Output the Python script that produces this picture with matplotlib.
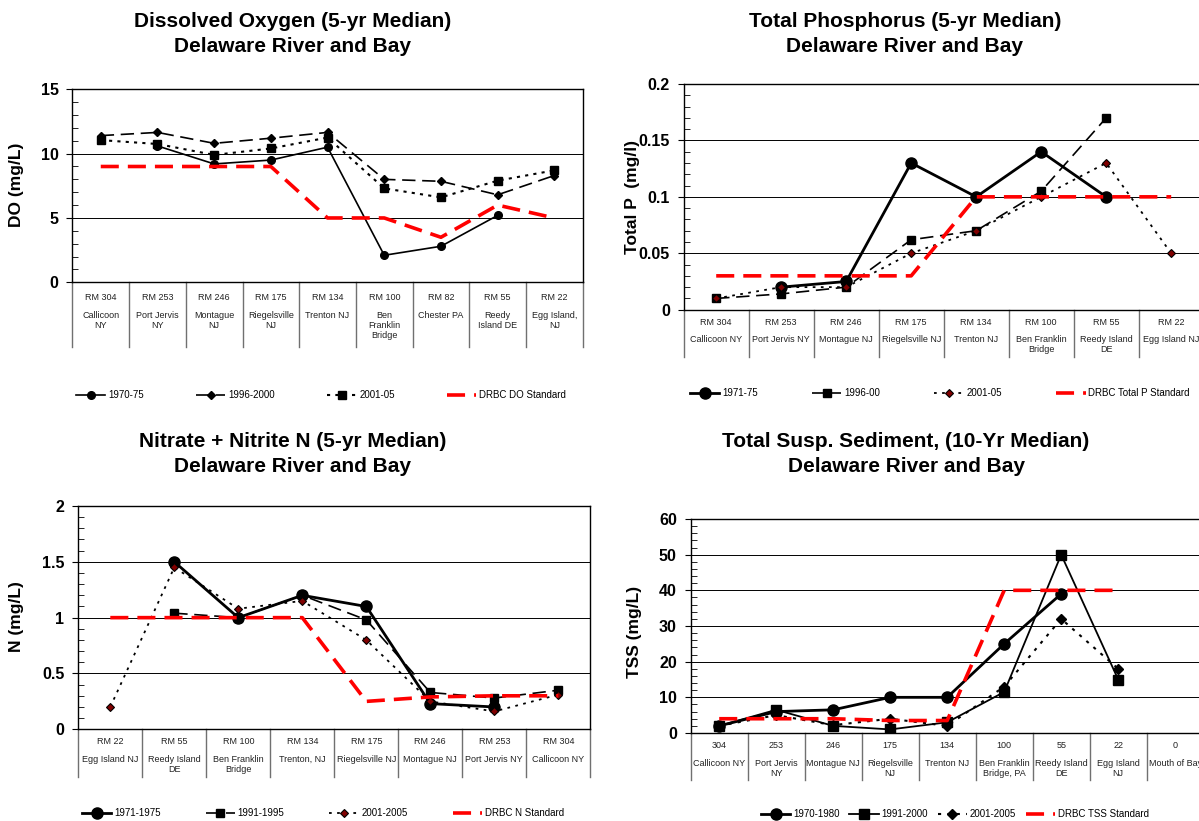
import matplotlib.pyplot as plt
import numpy as np
from matplotlib.ticker import MultipleLocator, FuncFormatter

plt.rcParams['font.family'] = ['Liberation Sans', 'DejaVu Sans']

W, H = 1199, 821
nan = np.nan

# Dissolved oxygen (mg/L)
do_sites = ['RM 304', 'RM 253', 'RM 246', 'RM 175', 'RM 134', 'RM 100', 'RM 82', 'RM 55', 'RM 22']
do_places = ['Callicoon\nNY', 'Port Jervis\nNY', 'Montague\nNJ', 'Riegelsville\nNJ', 'Trenton NJ',
             'Ben\nFranklin\nBridge', 'Chester PA', 'Reedy\nIsland DE', 'Egg Island,\nNJ']
do_1970 = [nan, 10.6, 9.2, 9.5, 10.5, 2.1, 2.8, 5.2, nan]
do_1996 = [11.4, 11.65, 10.8, 11.2, 11.65, 8.0, 7.85, 6.8, 8.3]
do_2001 = [11.05, 10.75, 9.9, 10.4, 11.25, 7.3, 6.6, 7.9, 8.7]
do_std = [9, 9, 9, 9, 5, 5, 3.5, 6, 5]

# Total phosphorus (mg/l)
tp_sites = ['RM 304', 'RM 253', 'RM 246', 'RM 175', 'RM 134', 'RM 100', 'RM 55', 'RM 22']
tp_places = ['Callicoon NY', 'Port Jervis NY', 'Montague NJ', 'Riegelsville NJ', 'Trenton NJ',
             'Ben Franklin\nBridge', 'Reedy Island\nDE', 'Egg Island NJ']
tp_1971 = [nan, 0.02, 0.025, 0.13, 0.1, 0.14, 0.1, nan]
tp_1996 = [0.01, 0.014, 0.02, 0.062, 0.07, 0.105, 0.17, nan]
tp_2001 = [0.01, 0.02, 0.02, 0.05, 0.07, 0.1, 0.13, 0.05]
tp_std = [0.03, 0.03, 0.03, 0.03, 0.1, 0.1, 0.1, 0.1]

# Nitrate + nitrite N (mg/L)
n_sites = ['RM 22', 'RM 55', 'RM 100', 'RM 134', 'RM 175', 'RM 246', 'RM 253', 'RM 304']
n_places = ['Egg Island NJ', 'Reedy Island\nDE', 'Ben Franklin\nBridge', 'Trenton, NJ', 'Riegelsville NJ',
            'Montague NJ', 'Port Jervis NY', 'Callicoon NY']
n_1971 = [nan, 1.5, 1.0, 1.2, 1.1, 0.23, 0.2, nan]
n_1991 = [nan, 1.04, 1.0, 1.2, 0.98, 0.33, 0.28, 0.35]
n_2001 = [0.2, 1.45, 1.08, 1.15, 0.8, 0.25, 0.16, 0.31]
n_std = [1, 1, 1, 1, 0.25, 0.29, 0.3, 0.3]

# Total suspended sediment (mg/L)
tss_sites = ['304', '253', '246', '175', '134', '100', '55', '22', '0']
tss_places = ['Callicoon NY', 'Port Jervis\nNY', 'Montague NJ', 'Riegelsville\nNJ', 'Trenton NJ',
              'Ben Franklin\nBridge, PA', 'Reedy Island\nDE', 'Egg Island\nNJ', 'Mouth of Bay']
tss_1970 = [2, 6, 6.5, 10, 10, 25, 39, nan, nan]
tss_1991 = [2, 6.5, 2, 1, 3, 11.5, 50, 15, nan]
tss_2001 = [2, 5, 2.2, 4, 2, 13, 32, 18, nan]
tss_std = [4, 4, 4, 3.5, 3.5, 40, 40, 40, nan]

RED = '#FF0000'
DARKRED = '#800000'


def rect(left, top, right, bottom):
    # pixel box -> figure fraction
    return [left / W, 1 - bottom / H, (right - left) / W, (bottom - top) / H]


def setup_axes(fig, box, ymax, major, minor, sites, places, table_bottom, off1, off2):
    ax = fig.add_axes(rect(*box))
    n = len(sites)
    x = np.arange(n)
    ax.set_xlim(-0.5, n - 0.5)
    ax.set_ylim(0, ymax)
    ax.set_xticks([])
    ax.yaxis.set_major_locator(MultipleLocator(major))
    ax.yaxis.set_minor_locator(MultipleLocator(minor))
    ax.yaxis.set_major_formatter(FuncFormatter(lambda v, p: f'{v:g}'))
    ax.tick_params(axis='y', which='major', direction='out', length=4, labelsize=11.5, pad=6)
    ax.tick_params(axis='y', which='minor', direction='in', length=4)
    for lab in ax.get_yticklabels():
        lab.set_fontweight('bold')
    ax.grid(axis='y', which='major', color='black', lw=0.7)
    ax.set_axisbelow(True)
    for s in ax.spines.values():
        s.set_linewidth(1.0)

    # category table under the plot
    depth = (table_bottom - box[3]) / (box[3] - box[1])
    tr = ax.get_xaxis_transform()
    for i in range(n + 1):
        ax.plot([i - 0.5, i - 0.5], [0, -depth], transform=tr, clip_on=False, color='#707070', lw=1)
    for xi, s, p in zip(x, sites, places):
        ax.annotate(s, xy=(xi, 0), xycoords=tr, xytext=(0, -off1), textcoords='offset pixels',
                    ha='center', va='center', fontsize=6.5, color='#222222')
        ax.annotate(p, xy=(xi, 0), xycoords=tr, xytext=(0, -off2), textcoords='offset pixels',
                    ha='center', va='top', fontsize=6.5, color='#222222', linespacing=1.15)
    return ax, x


def add_titles(fig, cx, cy, text, ylabel, ylx, yly):
    fig.text(cx / W, 1 - cy / H, text, ha='center', va='center', fontsize=15,
             fontweight='bold', linespacing=1.35)
    fig.text(ylx / W, 1 - yly / H, ylabel, ha='center', va='center', rotation=90,
             fontsize=12.5, fontweight='bold')


fig = plt.figure(figsize=(W / 100, H / 100), dpi=100)

# ---------------- Dissolved Oxygen ----------------
ax, x = setup_axes(fig, (72.4, 89.3, 582.7, 282.3), 15, 5, 1, do_sites, do_places, 347, 15, 29)
ax.plot(x, do_1970, color='black', lw=1.2, marker='o', ms=5.5, label='1970-75')
ax.plot(x, do_1996, color='black', lw=1.2, dashes=(8, 4), marker='D', ms=4.5, label='1996-2000')
ax.plot(x, do_2001, color='black', lw=1.5, dashes=(1.5, 2.5), marker='s', ms=5.5, label='2001-05')
ax.plot(x, do_std, color=RED, lw=2.6, dashes=(5, 2.5), label='DRBC DO Standard')
add_titles(fig, 293, 34, 'Dissolved Oxygen (5-yr Median)\nDelaware River and Bay', 'DO (mg/L)', 17, 185)
ax.legend(loc='center', bbox_to_anchor=(76 / W, 1 - 400 / H, 490 / W, 10 / H), bbox_transform=fig.transFigure,
          mode='expand', ncol=4, frameon=False, fontsize=7, handlelength=3, handletextpad=0.3,
          borderaxespad=0, borderpad=0)

# ---------------- Total Phosphorus ----------------
ax, x = setup_axes(fig, (683.7, 84, 1203.7, 309.7), 0.2, 0.05, 0.01, tp_sites, tp_places, 357, 13, 25)
ax.plot(x, tp_1971, color='black', lw=2, marker='o', ms=8, label='1971-75')
ax.plot(x, tp_1996, color='black', lw=1.2, dashes=(8, 4), marker='s', ms=6, label='1996-00')
ax.plot(x, tp_2001, color='black', lw=1.3, dashes=(1.5, 3), marker='D', ms=4.5, mfc=DARKRED, mec='black',
        mew=0.8, label='2001-05')
ax.plot(x, tp_std, color=RED, lw=2.6, dashes=(5, 2.5), label='DRBC Total P Standard')
add_titles(fig, 905, 34, 'Total Phosphorus (5-yr Median)\nDelaware River and Bay', 'Total P  (mg/l)', 633, 197)
ax.legend(loc='center', bbox_to_anchor=(690 / W, 1 - 398 / H, 500 / W, 10 / H), bbox_transform=fig.transFigure,
          mode='expand', ncol=4, frameon=False, fontsize=7, handlelength=3, handletextpad=0.3,
          borderaxespad=0, borderpad=0)

# ---------------- Nitrate + Nitrite ----------------
ax, x = setup_axes(fig, (78.3, 506, 590.3, 729.3), 2, 0.5, 0.1, n_sites, n_places, 777, 12.5, 26)
ax.plot(x, n_1971, color='black', lw=2, marker='o', ms=8, label='1971-1975')
ax.plot(x, n_1991, color='black', lw=1.2, dashes=(8, 4), marker='s', ms=6, label='1991-1995')
ax.plot(x, n_2001, color='black', lw=1.3, dashes=(1.5, 3), marker='D', ms=4.5, mfc=DARKRED, mec='black',
        mew=0.8, label='2001-2005')
ax.plot(x, n_std, color=RED, lw=2.6, dashes=(5, 2.5), label='DRBC N Standard')
add_titles(fig, 293, 454, 'Nitrate + Nitrite N (5-yr Median)\nDelaware River and Bay', 'N (mg/L)', 17, 617)
ax.legend(loc='center', bbox_to_anchor=(82 / W, 1 - 818 / H, 482 / W, 10 / H), bbox_transform=fig.transFigure,
          mode='expand', ncol=4, frameon=False, fontsize=7, handlelength=3, handletextpad=0.3,
          borderaxespad=0, borderpad=0)

# ---------------- Total Suspended Sediment ----------------
ax, x = setup_axes(fig, (690.7, 519, 1203.7, 733), 60, 10, 2, tss_sites, tss_places, 780, 12.7, 26)
ax.plot(x, tss_1970, color='black', lw=2, marker='o', ms=8, label='1970-1980')
ax.plot(x, tss_1991, color='black', lw=1.3, marker='s', ms=6.5, label='1991-2000')
ax.plot(x, tss_2001, color='black', lw=1.5, dashes=(1.5, 3), marker='D', ms=5.5, label='2001-2005')
ax.plot(x, tss_std, color=RED, lw=2.6, dashes=(5, 2.5), label='DRBC TSS Standard')
add_titles(fig, 906, 454, 'Total Susp. Sediment, (10-Yr Median)\nDelaware River and Bay', 'TSS (mg/L)', 634, 632)
ax.legend(loc='center', bbox_to_anchor=(955 / W, 1 - 814 / H), bbox_transform=fig.transFigure,
          ncol=4, frameon=False, fontsize=7, handlelength=3, handletextpad=0.3, columnspacing=1.0,
          borderaxespad=0, borderpad=0)

fig.savefig('out.png', dpi=100)
